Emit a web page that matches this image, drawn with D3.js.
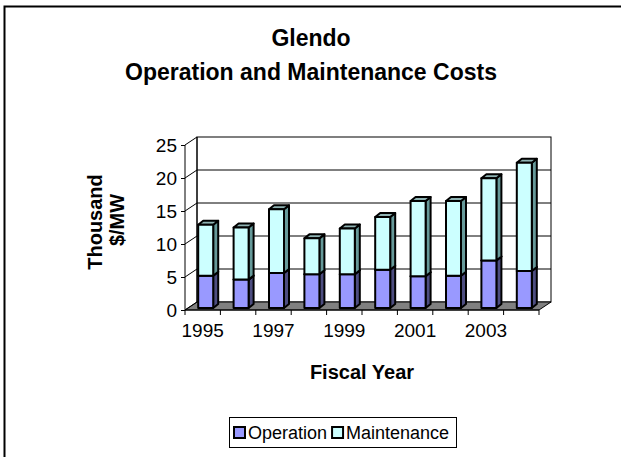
<!DOCTYPE html>
<html><head><meta charset="utf-8">
<script src="https://cdn.jsdelivr.net/npm/d3@7"></script>
<style>body{margin:0;background:#fff}svg{display:block}text{font-family:"Liberation Sans",Arial,sans-serif}</style>
</head><body>
<script>
const years = [1995,1996,1997,1998,1999,2000,2001,2002,2003,2004];
const operation = [4.9,4.3,5.3,5.1,5.1,5.8,4.8,4.9,7.2,5.6];
const maintenance = [7.7,7.9,9.65,5.45,6.95,8.0,11.4,11.3,12.45,16.4];
const yTicks = [0,5,10,15,20,25];
const xTickLabels = ["1995","1997","1999","2001","2003"];
const seriesNames = ["Operation","Maintenance"];

const W=621,H=457;
const svg=d3.select("body").append("svg").attr("width",W).attr("height",H);
svg.append("rect").attr("x",4.5).attr("y",6.5).attr("width",W+10).attr("height",H+10)
  .attr("fill","#fff").attr("stroke","#000").attr("stroke-width",2);

// geometry
const x0=185,x1=539,DX=12,DY=-8;
const x=d3.scaleBand().domain(years).range([x0,x1]).padding(0);
const y=d3.scaleLinear().domain([0,25]).range([310,145]);
const g=svg.append("g");

// back wall
g.append("rect").attr("x",x0+DX).attr("y",y(25)+DY).attr("width",x1-x0).attr("height",y(0)-y(25))
  .attr("fill","#fff").attr("stroke","#000").attr("stroke-width",1);
// floor
g.append("path").attr("d",`M${x0},${y(0)}L${x1},${y(0)}L${x1+DX},${y(0)+DY}L${x0+DX},${y(0)+DY}Z`)
  .attr("fill","#808080").attr("stroke","#000").attr("stroke-width",1);
// gridlines
yTicks.forEach(t=>{
  if(t>0 && t<25) g.append("line").attr("x1",x0+DX).attr("x2",x1+DX).attr("y1",y(t)+DY).attr("y2",y(t)+DY).attr("stroke","#000");
  g.append("line").attr("x1",x0).attr("x2",x0+DX).attr("y1",y(t)).attr("y2",y(t)+DY).attr("stroke","#000");
});
g.append("line").attr("x1",x0+DX).attr("x2",x0+DX).attr("y1",y(25)+DY).attr("y2",y(0)+DY).attr("stroke","#000");

// bars
const bw=15, fx=3, fy=-2, sx=5, sy=-4;
const colors={Operation:{front:"#9999ff",side:"#4d4d80",top:"#7373bf"},Maintenance:{front:"#ccffff",side:"#669999",top:"#8fb3b3"}};
const stack=d3.stack().keys(seriesNames)(years.map((yr,i)=>({year:yr,Operation:operation[i],Maintenance:maintenance[i]})));
stack.forEach(layer=>{
  const c=colors[layer.key];
  layer.forEach(d=>{
    const xl=x(d.data.year)+(x.bandwidth()-bw)/2+fx;
    const yt=y(d[1])+fy, yb=y(d[0])+fy;
    const bg=g.append("g").attr("stroke","#000").attr("stroke-width",2).attr("stroke-linejoin","round");
    bg.append("path").attr("d",`M${xl+bw},${yb}L${xl+bw+sx},${yb+sy}L${xl+bw+sx},${yt+sy}L${xl+bw},${yt}Z`).attr("fill",c.side);
    bg.append("path").attr("d",`M${xl},${yt}L${xl+sx},${yt+sy}L${xl+bw+sx},${yt+sy}L${xl+bw},${yt}Z`).attr("fill",c.top);
    bg.append("rect").attr("x",xl).attr("y",yt).attr("width",bw).attr("height",yb-yt).attr("fill",c.front);
  });
});

// y axis
g.append("line").attr("x1",x0).attr("x2",x0).attr("y1",y(0)).attr("y2",y(25)).attr("stroke","#000");
const yAxis=d3.axisLeft(y).tickValues(yTicks).tickSize(4).tickPadding(4);
const ya=svg.append("g").attr("transform",`translate(${x0},0)`).call(yAxis);
ya.select(".domain").remove();
ya.selectAll("text").attr("font-size",19).attr("fill","#000").attr("font-family","Liberation Sans, Arial, sans-serif");
// x axis
const xa=svg.append("g").attr("transform",`translate(0,${y(0)})`);
xa.append("line").attr("x1",x0).attr("x2",x1).attr("stroke","#000");
years.forEach(yr=>{
  const xx=x(yr)+x.bandwidth();
  xa.append("line").attr("x1",xx).attr("x2",xx).attr("y1",0).attr("y2",5).attr("stroke","#000");
});
xa.append("line").attr("x1",x0).attr("x2",x0).attr("y1",0).attr("y2",5).attr("stroke","#000");
xTickLabels.forEach(l=>{
  xa.append("text").attr("x",x(+l)+x.bandwidth()/2).attr("y",27).attr("text-anchor","middle")
    .attr("font-size",19).text(l);
});

// titles
svg.append("text").attr("x",311).attr("y",46).attr("text-anchor","middle").attr("font-size",23).attr("font-weight","bold").text("Glendo");
svg.append("text").attr("x",311).attr("y",80).attr("text-anchor","middle").attr("font-size",23).attr("font-weight","bold").text("Operation and Maintenance Costs");
svg.append("text").attr("transform","translate(102,222) rotate(-90)").attr("text-anchor","middle").attr("font-size",20).attr("font-weight","bold").text("Thousand");
svg.append("text").attr("transform","translate(124,220) rotate(-90)").attr("text-anchor","middle").attr("font-size",20).attr("font-weight","bold").text("$/MW");
svg.append("text").attr("x",362).attr("y",379).attr("text-anchor","middle").attr("font-size",20).attr("font-weight","bold").text("Fiscal Year");

// legend
const lg=svg.append("g");
lg.append("rect").attr("x",229.5).attr("y",417.5).attr("width",227).attr("height",30).attr("fill","#fff").attr("stroke","#000");
let cx=234;
seriesNames.forEach((n,i)=>{
  lg.append("rect").attr("x",cx).attr("y",427).attr("width",11).attr("height",11).attr("fill",colors[n].front).attr("stroke","#000").attr("stroke-width",2);
  const t=lg.append("text").attr("x",cx+14).attr("y",439).attr("font-size",18).text(n);
  cx+=14+t.node().getComputedTextLength()+5;
});
</script>
</body></html>
